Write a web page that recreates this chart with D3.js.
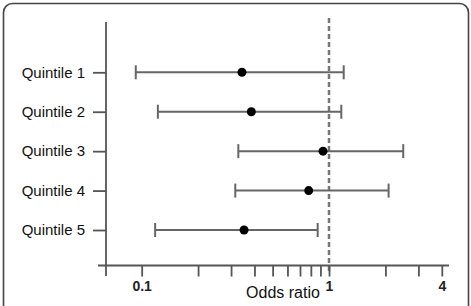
<!DOCTYPE html>
<html><head><meta charset="utf-8">
<script src="https://cdn.jsdelivr.net/npm/d3@7"></script>
<style>
html,body{margin:0;padding:0;background:#fff;}
svg{display:block;font-family:"Liberation Sans",Arial,sans-serif;}
</style></head>
<body>
<svg id="c" width="471" height="306"></svg>
<script>
const categories = ["Quintile 1","Quintile 2","Quintile 3","Quintile 4","Quintile 5"];
const oddsRatio = [0.343, 0.385, 0.929, 0.779, 0.352];
const lowerCI  = [0.093, 0.122, 0.328, 0.316, 0.118];
const upperCI  = [1.198, 1.163, 2.49, 2.08, 0.87];
const xTicks = [0.1,0.2,0.3,0.4,0.5,0.6,0.7,0.8,0.9,1,2,3,4];
const xTickLabels = {"0.1":"0.1","1":"1","4":"4"};

const svg = d3.select("#c");
const axisColor = "#555";

// frame
svg.append("rect").attr("x",3.5).attr("y",3.5).attr("width",465).attr("height",320)
  .attr("rx",9).attr("fill","none").attr("stroke","#444").attr("stroke-width",1.6);

const x = d3.scaleLog().domain([0.0645, 4.37]).range([106, 449]);
const y = d3.scalePoint().domain(categories).range([72.3, 230]);

// dashed reference line
svg.append("line").attr("x1",x(1)).attr("x2",x(1)).attr("y1",18).attr("y2",273)
  .attr("stroke","#777").attr("stroke-width",2.5).attr("stroke-dasharray","5,3");

// x axis
const xAxis = svg.append("g").attr("transform","translate(0,265.5)")
  .call(d3.axisBottom(x).tickValues(xTicks).tickSize(11).tickPadding(5)
    .tickFormat(d => xTickLabels[String(d)] || ""));
xAxis.select(".domain").remove();
xAxis.selectAll(".tick line").attr("stroke",axisColor).attr("stroke-width",1.8);
xAxis.selectAll(".tick text").attr("fill","#222").attr("font-size",14).attr("font-weight","bold")
  .attr("font-family","Liberation Sans, Arial, sans-serif");
svg.append("line").attr("x1",98).attr("x2",449).attr("y1",265.5).attr("y2",265.5)
  .attr("stroke",axisColor).attr("stroke-width",1.8);

// y axis
const yAxis = svg.append("g").attr("transform","translate(106,0)")
  .call(d3.axisLeft(y).tickSize(13).tickPadding(8));
yAxis.select(".domain").remove();
yAxis.selectAll(".tick line").attr("stroke",axisColor).attr("stroke-width",1.8);
yAxis.selectAll(".tick text").attr("fill","#111").attr("font-size",15)
  .attr("font-family","Liberation Sans, Arial, sans-serif");
svg.append("line").attr("x1",106).attr("x2",106).attr("y1",22).attr("y2",276)
  .attr("stroke",axisColor).attr("stroke-width",1.8);

// axis title
svg.append("text").attr("x",283).attr("y",298).attr("text-anchor","middle")
  .attr("font-size",16).attr("fill","#111").text("Odds ratio");

// error bars
const rows = categories.map((c,i)=>({c, or:oddsRatio[i], lo:lowerCI[i], hi:upperCI[i]}));
const g = svg.append("g");
g.selectAll(".bar").data(rows).join("line")
  .attr("x1",d=>x(d.lo)).attr("x2",d=>x(d.hi)).attr("y1",d=>y(d.c)).attr("y2",d=>y(d.c))
  .attr("stroke","#666").attr("stroke-width",2);
g.selectAll(".capL").data(rows).join("line")
  .attr("x1",d=>x(d.lo)).attr("x2",d=>x(d.lo)).attr("y1",d=>y(d.c)-7).attr("y2",d=>y(d.c)+7)
  .attr("stroke","#666").attr("stroke-width",2);
g.selectAll(".capR").data(rows).join("line")
  .attr("x1",d=>x(d.hi)).attr("x2",d=>x(d.hi)).attr("y1",d=>y(d.c)-7).attr("y2",d=>y(d.c)+7)
  .attr("stroke","#666").attr("stroke-width",2);
g.selectAll(".pt").data(rows).join("circle")
  .attr("cx",d=>x(d.or)).attr("cy",d=>y(d.c)).attr("r",4.5).attr("fill","#000");
</script>
</body></html>
